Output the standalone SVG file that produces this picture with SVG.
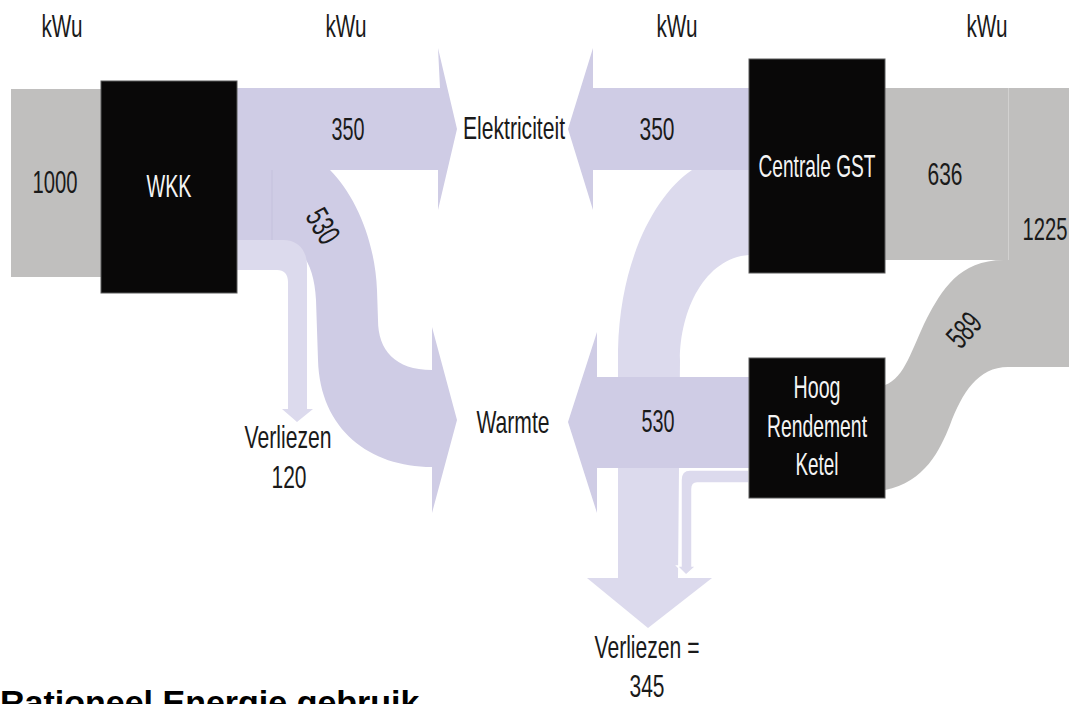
<svg xmlns="http://www.w3.org/2000/svg" width="1069" height="704" viewBox="0 0 1069 704">
<style>
.t{font-family:"Liberation Sans",Arial,sans-serif;font-size:32px;fill:#1a1a1a}
.w{fill:#f4f4f4}
.c{text-anchor:middle}
.box{fill:#090808;stroke:#5a5a5a;stroke-width:1}
.gray{fill:#c0bfbe}
.lav{fill:#cfcce5}
.lite{fill:#dcdaed}
.title{font-family:"Liberation Sans",Arial,sans-serif;font-size:34px;font-weight:bold;fill:#000}
</style>
<rect width="1069" height="704" fill="#ffffff"/>
<g id="connectors">
  <!-- left side -->
  <rect class="gray" x="11" y="89" width="92" height="188"/>
  <path class="lav" d="M237,88 L440,88 L438,48 L457,129 L438,210 L438,170 L237,170 Z"/>
  <path class="lav" d="M237,170 L330,170 C355,195 375,240 377,290 L378,320 C378,350 395,370 432,370 L432,327 L457,420 L432,513 L432,467 C370,467 320,430 318,360 L316,300 C314,262 300,242 272,240 L237,240 Z"/>
  <line x1="272" y1="170" x2="272" y2="240" stroke="#c4c1dc" stroke-width="1"/>
  <path class="lite" d="M237,240 L283,240 C298,240 307,250 307,266 L307,409 L313,409 L297,422 L282,409 L288,409 L288,282 C288,274 284,270 277,270 L237,270 Z"/>
  <!-- right side -->
  <path class="lite" d="M749,170 L692,170 C655,195 620,260 618,350 L618,578 L587,578 L648,628 L712,578 L678,578 L680,360 C680,310 705,258 749,255 Z"/>
  <path class="lite" stroke="#ffffff" stroke-width="1.5" d="M749,470 L690,470 C684,470 681,474 681,480 L681,566 L677,566 L686,575 L696,566 L692,566 L692,489 C692,485 693,483 697,483 L749,483 Z"/>
  <path class="lav" d="M749,88 L593,88 L593,48 L568,129 L593,210 L593,170 L749,170 Z"/>
  <path class="lav" d="M749,377 L597,377 L597,332 L568,422 L597,513 L597,468 L749,468 Z"/>
  <rect class="gray" x="885" y="88" width="124" height="172"/>
  <rect class="gray" x="1008" y="88" width="61" height="279"/>
  <line x1="1008.5" y1="88" x2="1008.5" y2="260" stroke="#d2d1d0" stroke-width="1"/>
  <path class="gray" d="M1008,260 C960,258 942,290 927,318 C912,348 905,378 885,385 L885,490 C925,482 940,450 950,425 C962,393 978,367 1008,367 Z"/>
</g>
<g id="node-wkk">
  <rect class="box" x="101" y="81" width="136" height="212"/>
  <text class="t w c" x="169" y="197" font-size="35" textLength="45" lengthAdjust="spacingAndGlyphs">WKK</text>
</g>
<g id="node-centrale">
  <rect class="box" x="749" y="59" width="136" height="214"/>
  <text class="t w c" x="817" y="177" font-size="33" textLength="117" lengthAdjust="spacingAndGlyphs">Centrale GST</text>
</g>
<g id="node-ketel">
  <rect class="box" x="749" y="358" width="136" height="140"/>
  <text class="t w c" x="817" y="398" font-size="28" textLength="47" lengthAdjust="spacingAndGlyphs">Hoog</text>
  <text class="t w c" x="817" y="437" font-size="28" textLength="100" lengthAdjust="spacingAndGlyphs">Rendement</text>
  <text class="t w c" x="817" y="475" font-size="28" textLength="43" lengthAdjust="spacingAndGlyphs">Ketel</text>
</g>
<g id="node-elektriciteit">
  <text class="t c" x="514" y="139" font-size="33" textLength="102" lengthAdjust="spacingAndGlyphs">Elektriciteit</text>
</g>
<g id="node-warmte">
  <text class="t c" x="513" y="433" textLength="73" lengthAdjust="spacingAndGlyphs">Warmte</text>
</g>
<g id="node-verliezen-left">
  <text class="t c" x="288" y="448" textLength="87" lengthAdjust="spacingAndGlyphs">Verliezen</text>
  <text class="t c" x="289" y="488" textLength="35" lengthAdjust="spacingAndGlyphs">120</text>
</g>
<g id="node-verliezen-right">
  <text class="t c" x="647" y="658" textLength="105" lengthAdjust="spacingAndGlyphs">Verliezen =</text>
  <text class="t c" x="647" y="697" textLength="35" lengthAdjust="spacingAndGlyphs">345</text>
</g>
<g id="labels">
  <text class="t c" x="62" y="37" font-size="33" textLength="41" lengthAdjust="spacingAndGlyphs">kWu</text>
  <text class="t c" x="346" y="37" font-size="33" textLength="41" lengthAdjust="spacingAndGlyphs">kWu</text>
  <text class="t c" x="677" y="37" font-size="33" textLength="41" lengthAdjust="spacingAndGlyphs">kWu</text>
  <text class="t c" x="987" y="37" font-size="33" textLength="41" lengthAdjust="spacingAndGlyphs">kWu</text>
  <text class="t c" x="55" y="193" textLength="45" lengthAdjust="spacingAndGlyphs">1000</text>
  <text class="t c" x="348" y="140" textLength="33" lengthAdjust="spacingAndGlyphs">350</text>
  <text class="t c" x="657" y="140" textLength="35" lengthAdjust="spacingAndGlyphs">350</text>
  <text class="t c" x="945" y="185" textLength="35" lengthAdjust="spacingAndGlyphs">636</text>
  <text class="t c" x="1045" y="240" textLength="45" lengthAdjust="spacingAndGlyphs">1225</text>
  <text class="t c" x="658" y="432" textLength="33" lengthAdjust="spacingAndGlyphs">530</text>
  <text class="t c" transform="translate(323,226) rotate(60)" x="0" y="11" textLength="35" lengthAdjust="spacingAndGlyphs">530</text>
  <text class="t c" transform="translate(964,330) rotate(-48)" x="0" y="11" textLength="35" lengthAdjust="spacingAndGlyphs">589</text>
  <text class="title" x="0" y="714">Rationeel Energie gebruik</text>
</g>
</svg>
